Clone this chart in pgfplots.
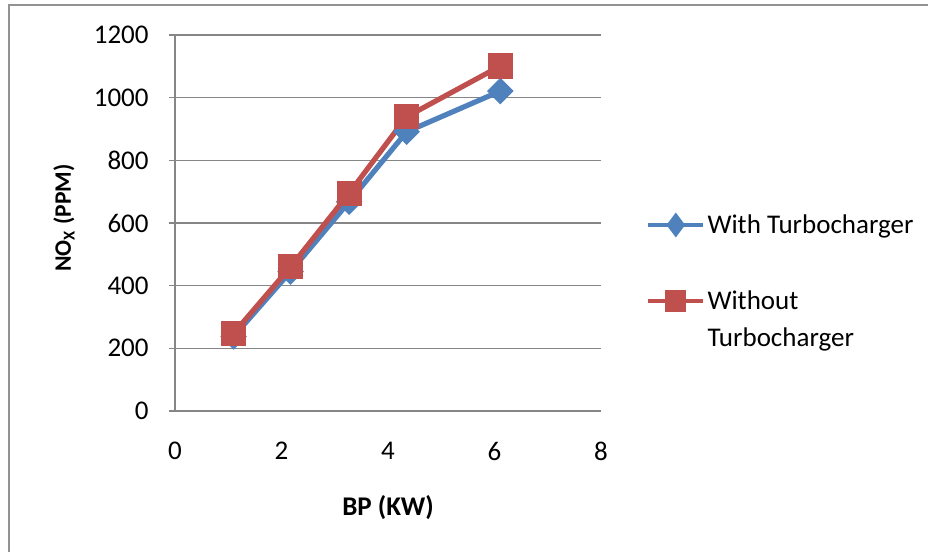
\documentclass[border=0pt]{standalone}
\usepackage{pgfplots}
\pgfplotsset{compat=1.18}
\usepackage{fontspec}
\setmainfont{Carlito}

\definecolor{turboBlue}{RGB}{79,129,189}
\definecolor{plainRed}{RGB}{192,80,77}
\definecolor{gridGray}{RGB}{134,134,134}

\pgfplotstableread{
bp    nox
1.10  238
2.17  445
3.27  668
4.35  891
6.11  1021
}\withturbo

\pgfplotstableread{
bp    nox
1.10  248
2.17  460
3.27  695
4.35  939
6.11  1101
}\withoutturbo

\begin{document}
\begin{tikzpicture}[font=\fontsize{13.5}{18.5}\selectfont]
\useasboundingbox (0,0) rectangle (464pt,276pt);
% outer chart frame
\draw[gridGray!90, line width=1.2pt] (4.6pt,0) -- (4.6pt,273.5pt) -- (464pt,273.5pt);
\begin{axis}[
  at={(87.5pt,70.5pt)}, anchor=south west,
  scale only axis, width=213pt, height=188pt,
  xmin=0, xmax=8, ymin=0, ymax=1200,
  xtick={0,2,...,8}, ytick={0,200,...,1200},
  axis x line*=bottom, axis y line*=left,
  axis line style={gridGray, line width=0.8pt, -},
  ymajorgrids, grid style={gridGray, line width=0.8pt},
  x tick style={draw=none},
  y tick style={gridGray, line width=0.8pt},
  tick align=outside, major tick length=3pt,
  /pgf/number format/assume math mode=true,
  /pgf/number format/1000 sep={},
  xticklabel style={anchor=center, yshift=-17pt},
  yticklabel style={anchor=east, inner sep=0pt, xshift=-10pt},
  xlabel={\textbf{BP (KW)}},
  ylabel={\textbf{NO\textsubscript{X} (PPM)}},
  xlabel style={at={(axis description cs:0.5,-0.258)}, anchor=center},
  ylabel style={at={(axis description cs:-0.2606,0.513)}, anchor=center,
    font=\fontsize{11.8}{14}\selectfont},
  legend style={draw=none, fill=none, inner sep=0pt,
    at={(axis description cs:1.105,0.528)}, anchor=north west,
    row sep=21.5pt, column sep=0pt,
    nodes={inner sep=1pt, anchor=base west}},
  legend image code/.code={%
    \draw[mark repeat=2, mark phase=2]
      plot coordinates {(0pt,4.3pt) (13.75pt,4.3pt) (27.5pt,4.3pt)};},
]
\addplot[turboBlue, line width=2.6pt, mark=square*, mark size=3.4pt,
  mark options={rotate=45, solid}, forget plot] table[x=bp, y=nox] {\withturbo};
\addplot[plainRed, line width=2.6pt, mark=square*, mark size=5pt,
  mark options={solid}, forget plot] table[x=bp, y=nox] {\withoutturbo};
\addlegendimage{turboBlue, line width=2.2pt, mark=diamond*, mark size=4.4pt,
  mark options={solid}}
\addlegendentry{With Turbocharger}
\addlegendimage{plainRed, line width=2.2pt, mark=square*, mark size=4.2pt,
  mark options={solid}}
\addlegendentry{\begin{tabular}[t]{@{}l@{}}Without\\Turbocharger\end{tabular}}
\end{axis}
\end{tikzpicture}
\end{document}
